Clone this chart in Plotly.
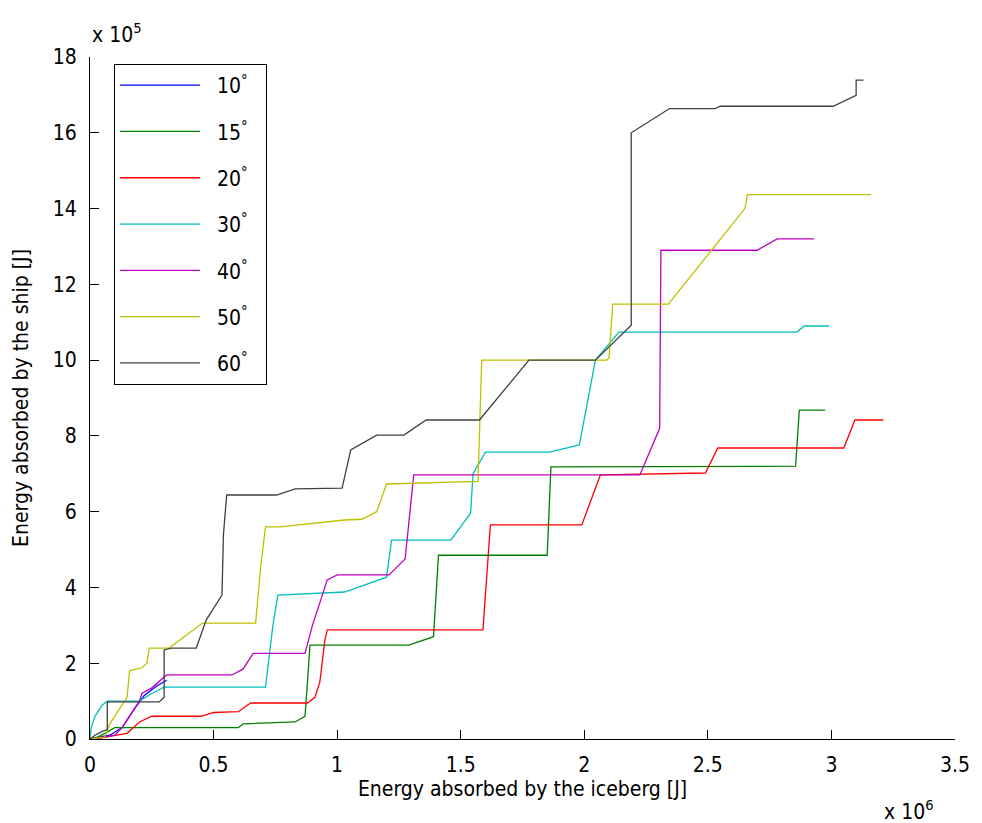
import plotly.graph_objects as go

# Energy absorbed by the iceberg (x, in 1e6 J) vs energy absorbed by the ship (y, in 1e5 J)
angles = ["10", "15", "20", "30", "40", "50", "60"]
colors = ["#0000FF", "#008000", "#FF0000", "#00BFBF", "#BF00BF", "#BFBF00", "#404040"]

x_10 = [0, 0.03, 0.08, 0.13, 0.18, 0.22, 0.27, 0.31]
y_10 = [0, 0.03, 0.10, 0.30, 0.80, 1.15, 1.40, 1.55]

x_15 = [0, 0.03, 0.06, 0.10, 0.60, 0.62, 0.83, 0.87, 0.88, 0.89, 1.29, 1.39, 1.41, 1.85, 1.865, 2.855, 2.87, 2.975]
y_15 = [0, 0.05, 0.15, 0.30, 0.30, 0.40, 0.45, 0.60, 1.50, 2.48, 2.48, 2.70, 4.85, 4.85, 7.18, 7.20, 8.68, 8.68]

x_20 = [0, 0.03, 0.15, 0.20, 0.25, 0.45, 0.50, 0.60, 0.65, 0.88, 0.91, 0.93, 0.95, 0.96, 1.59, 1.62, 1.99, 2.065, 2.49, 2.54, 3.05, 3.095, 3.21]
y_20 = [0, 0.02, 0.15, 0.45, 0.60, 0.60, 0.70, 0.72, 0.95, 0.95, 1.10, 1.50, 2.60, 2.88, 2.88, 5.65, 5.65, 6.97, 7.02, 7.68, 7.68, 8.42, 8.42]

x_30 = [0, 0.005, 0.02, 0.05, 0.07, 0.20, 0.25, 0.30, 0.71, 0.74, 0.76, 0.90, 1.03, 1.20, 1.22, 1.46, 1.54, 1.55, 1.60, 1.86, 1.98, 2.045, 2.14, 2.86, 2.89, 2.99]
y_30 = [0, 0.30, 0.60, 0.90, 1.00, 1.00, 1.20, 1.37, 1.37, 3.00, 3.80, 3.85, 3.88, 4.27, 5.25, 5.25, 5.96, 7.00, 7.57, 7.57, 7.76, 10.0, 10.74, 10.74, 10.90, 10.90]

x_40 = [0, 0.05, 0.10, 0.13, 0.20, 0.21, 0.25, 0.31, 0.575, 0.62, 0.66, 0.87, 0.90, 0.96, 1.00, 1.21, 1.275, 1.31, 2.225, 2.245, 2.305, 2.31, 2.33, 2.70, 2.78, 2.93]
y_40 = [0, 0.03, 0.10, 0.30, 1.00, 1.20, 1.35, 1.69, 1.69, 1.85, 2.26, 2.26, 3.00, 4.20, 4.33, 4.33, 4.75, 6.97, 6.97, 7.28, 8.20, 12.9, 12.9, 12.9, 13.2, 13.2]

x_50 = [0, 0.06, 0.08, 0.13, 0.15, 0.16, 0.21, 0.23, 0.24, 0.32, 0.455, 0.67, 0.69, 0.71, 0.77, 1.03, 1.10, 1.16, 1.20, 1.57, 1.585, 1.60, 2.09, 2.10, 2.115, 2.34, 2.65, 2.66, 3.16]
y_50 = [0, 0.05, 0.40, 0.90, 1.10, 1.80, 1.88, 2.00, 2.40, 2.40, 3.06, 3.06, 4.50, 5.60, 5.60, 5.78, 5.80, 6.00, 6.73, 6.80, 10.0, 10.0, 10.0, 10.05, 11.48, 11.48, 14.0, 14.37, 14.37]

x_60 = [0, 0.02, 0.05, 0.07, 0.07, 0.28, 0.30, 0.30, 0.33, 0.43, 0.47, 0.534, 0.54, 0.553, 0.755, 0.83, 1.02, 1.055, 1.16, 1.27, 1.36, 1.576, 1.776, 2.045, 2.19, 2.19, 2.345, 2.53, 2.55, 3.007, 3.10, 3.10, 3.13]
y_60 = [0, 0.10, 0.20, 0.25, 0.98, 0.98, 1.10, 2.35, 2.40, 2.40, 3.14, 3.80, 5.40, 6.44, 6.44, 6.60, 6.62, 7.63, 8.02, 8.02, 8.42, 8.42, 10.0, 10.0, 10.92, 16.0, 16.64, 16.64, 16.70, 16.70, 16.99, 17.39, 17.39]

xs = [x_10, x_15, x_20, x_30, x_40, x_50, x_60]
ys = [y_10, y_15, y_20, y_30, y_40, y_50, y_60]

x_ticks = [0, 0.5, 1, 1.5, 2, 2.5, 3, 3.5]
y_ticks = [0, 2, 4, 6, 8, 10, 12, 14, 16, 18]

FONT = "Liberation Sans Narrow, DejaVu Sans Condensed, Arial Narrow, Liberation Sans, Arial, sans-serif"
FS = 21

fig = go.Figure()
for ang, col, xv, yv in zip(angles, colors, xs, ys):
    fig.add_trace(go.Scatter(
        x=xv, y=yv, mode="lines",
        name="&nbsp;&nbsp;" + ang + "<sup>°</sup>&nbsp;&nbsp;",
        legendgroup=ang,
        line=dict(color=col, width=1.3),
    ))

axis_common = dict(
    showline=True, linecolor="black", linewidth=1.2,
    ticks="inside", ticklen=9, tickwidth=1.2, tickcolor="black",
    showgrid=False, zeroline=False, mirror=False,
    tickfont=dict(family=FONT, size=FS, color="black"),
)

fig.update_layout(
    width=982, height=823,
    margin=dict(l=90, r=19, t=57, b=84),
    paper_bgcolor="white", plot_bgcolor="white",
    font=dict(family=FONT, size=FS, color="black"),
    xaxis=dict(
        range=[0, 3.5], tickvals=x_ticks, ticktext=[f"{v:g}" for v in x_ticks],
        title=dict(text="Energy absorbed by the iceberg [J]", standoff=4,
                   font=dict(family=FONT, size=FS, color="black")),
        ticklabelstandoff=7,
        **axis_common,
    ),
    yaxis=dict(
        range=[0, 18], tickvals=y_ticks, ticktext=[f"{v:g}" for v in y_ticks],
        title=dict(text="Energy absorbed by the ship [J]", standoff=18,
                   font=dict(family=FONT, size=FS, color="black")),
        ticklabelstandoff=8,
        **axis_common,
    ),
    legend=dict(
        x=0.0275, y=0.99, xanchor="left", yanchor="top",
        bgcolor="white", bordercolor="black", borderwidth=1.2,
        font=dict(family=FONT, size=FS, color="black"),
        traceorder="grouped", tracegroupgap=16, itemwidth=80,
    ),
    showlegend=True,
)

# Exponent multipliers for the axes
fig.add_annotation(text="x 10<sup>5</sup>", xref="paper", yref="paper",
                   x=0.0, y=1.035, xanchor="left", yanchor="middle",
                   showarrow=False, font=dict(family=FONT, size=FS, color="black"))
fig.add_annotation(text="x 10<sup>6</sup>", xref="paper", yref="paper",
                   x=0.916, y=-0.104, xanchor="left", yanchor="middle",
                   showarrow=False, font=dict(family=FONT, size=FS, color="black"))

fig.write_html("out.html")
